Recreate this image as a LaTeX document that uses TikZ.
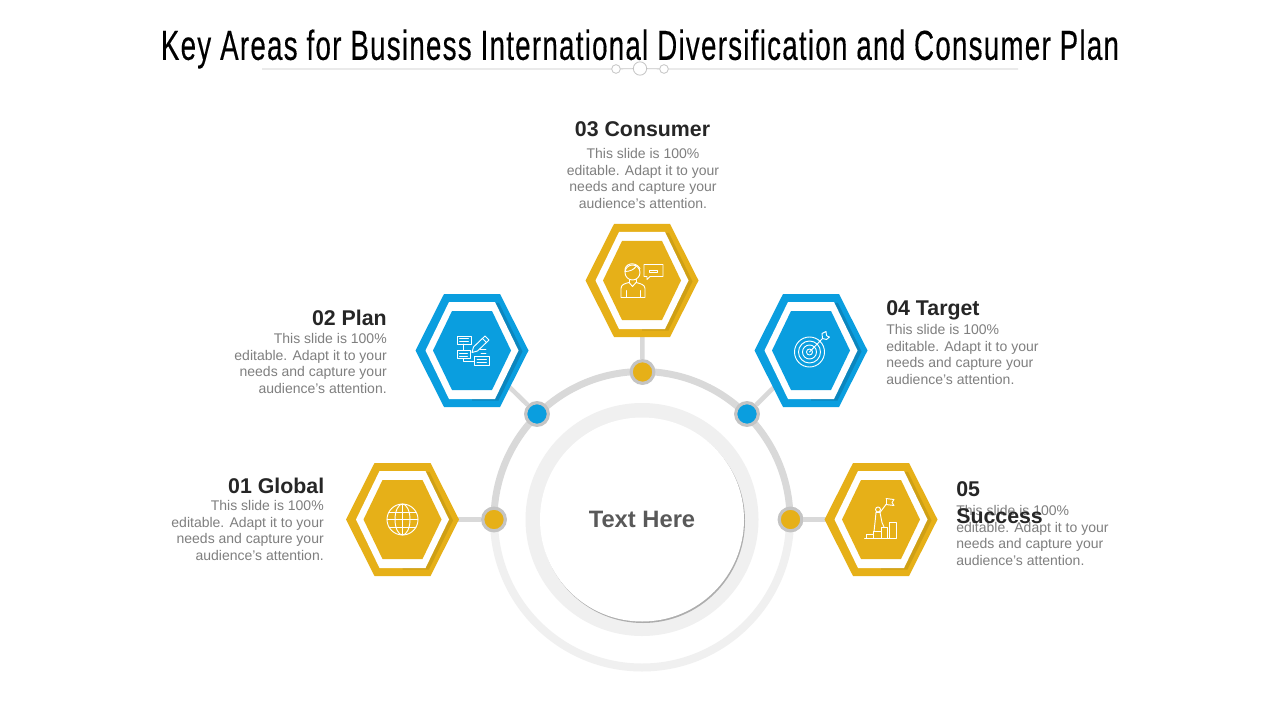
\documentclass[tikz,border=0pt]{standalone}
\usepackage{fontspec}
\setmainfont{Liberation Sans}
\newfontfamily\titlefont[FakeStretch=0.66,LetterSpace=3,FakeBold=0.25]{Liberation Sans}
\usetikzlibrary{positioning}

\definecolor{gold}{HTML}{E6B018}
\definecolor{golddark}{HTML}{CFA014}
\definecolor{sky}{HTML}{0A9EDF}
\definecolor{skydark}{HTML}{0B86BE}
\definecolor{ringgray}{HTML}{D9D9D9}
\definecolor{ringpale}{HTML}{F0F0F0}
\definecolor{dotrim}{HTML}{C4C4C4}
\definecolor{headink}{HTML}{262626}
\definecolor{bodyink}{HTML}{7F7F7F}

\tikzset{
  headtext/.style={font=\fontsize{16}{18}\selectfont\bfseries,text=headink,inner sep=0pt},
  bodytext/.style={font=\fontsize{10.5}{12.5}\selectfont,text=bodyink,inner sep=0pt},
  dot/.style={circle,draw=dotrim,line width=2.4pt,minimum size=17pt,inner sep=0pt},
  spoke/.style={ringgray,line width=3.4pt},
  icon/.style={white,line width=.7pt,line join=round,line cap=round},
  orn/.style={circle,draw=dotrim,fill=white,line width=.6pt,inner sep=0pt}
}

% hexagon: fill colour, shadow colour, centre
\newcommand{\hexa}[3]{
  \begin{scope}[shift={(#3)}]
    \fill[#1] (-56.5,0) -- (-28,-56.5) -- (28,-56.5) -- (56.5,0) -- (28,56.5) -- (-28,56.5) -- cycle;
    \fill[#2] (0,-48.5) -- (27,-47.5) -- (50.5,1) -- (26.5,50) -- (0,50) -- cycle;
    \fill[white] (-46.5,0) -- (-23,-48.5) -- (23,-48.5) -- (46.5,0) -- (23,48.5) -- (-23,48.5) -- cycle;
    \fill[#1] (-39,0) -- (-20,-39.5) -- (20,-39.5) -- (39,0) -- (20,39.5) -- (-20,39.5) -- cycle;
  \end{scope}
}

\begin{document}
\begin{tikzpicture}[x=.75pt,y=-.75pt]
  \useasboundingbox (0,0) rectangle (1280,720);
  \fill[white] (0,0) rectangle (1280,720);

  % title
  \node[inner sep=0pt,font=\titlefont\fontsize{31.5}{36}\selectfont] (title) at (640,49) {Key Areas for Business International Diversification and Consumer Plan};
  \node[orn,minimum size=6.5pt] (ornL) at (616,69) {};
  \node[orn,minimum size=10pt] (ornM) at (640,68.5) {};
  \node[orn,minimum size=6.5pt] (ornR) at (664,69) {};
  \coordinate (ruleL) at (262,69);
  \coordinate (ruleR) at (1018,69);
  \draw[dotrim,line width=.6pt] (ruleL) -- (ornL) (ornL) -- (ornM) (ornM) -- (ornR) (ornR) -- (ruleR);

  % rings
  \coordinate (hub) at (642,519.5);
  \draw[ringpale,line width=6pt] (494,519.5) arc[start angle=180,end angle=0,radius=148];
  \draw[ringgray,line width=5.2pt] (494,519.5) arc[start angle=180,end angle=360,radius=148];
  \fill[ringpale] (hub) circle (116.5);
  \fill[black!32] (643,521) circle (102);
  \node[circle,fill=white,minimum size=153pt,inner sep=0pt,text=black!65,font=\fontsize{17.8}{20}\selectfont\bfseries] (center) at (hub) {Text Here};

  % spokes and dots
  \coordinate (hex1) at (402.5,519.5);
  \coordinate (hex2) at (472,350.5);
  \coordinate (hex3) at (642,280.5);
  \coordinate (hex4) at (811,350.5);
  \coordinate (hex5) at (881,519.5);
  \node[dot,fill=gold] (dot1) at (494,519.5) {};
  \node[dot,fill=sky]  (dot2) at (537,414) {};
  \node[dot,fill=gold] (dot3) at (642.5,372) {};
  \node[dot,fill=sky]  (dot4) at (747,414) {};
  \node[dot,fill=gold] (dot5) at (790.5,519.5) {};
  \foreach \n in {1,...,5}
    \draw[spoke] (dot\n) -- (hex\n);

  \hexa{gold}{golddark}{hex1}
  \hexa{sky}{skydark}{hex2}
  \hexa{gold}{golddark}{hex3}
  \hexa{sky}{skydark}{hex4}
  \hexa{gold}{golddark}{hex5}

  % labels
  \node[headtext,anchor=east] (head1) at (324.5,485.5) {01 Global};
  \node[bodytext,anchor=north east,align=right] (body1) at (324,500) {This slide is 100\%\\editable. Adapt it to your\\needs and capture your\\audience's attention.};
  \node[headtext,anchor=east] (head2) at (387,318) {02 Plan};
  \node[bodytext,anchor=north east,align=right] (body2) at (387,333) {This slide is 100\%\\editable. Adapt it to your\\needs and capture your\\audience's attention.};
  \node[headtext] (head3) at (642.5,129) {03 Consumer};
  \node[bodytext,anchor=north,align=center] (body3) at (643,148) {This slide is 100\%\\editable. Adapt it to your\\needs and capture your\\audience's attention.};
  \node[headtext,anchor=west] (head4) at (886,310) {04 Target};
  \node[bodytext,anchor=north west,align=left] (body4) at (886,324) {This slide is 100\%\\editable. Adapt it to your\\needs and capture your\\audience's attention.};
  \node[bodytext,anchor=north west,align=left] (body5) at (956,505) {This slide is 100\%\\editable. Adapt it to your\\needs and capture your\\audience's attention.};
  \node[headtext,anchor=west] (head5a) at (956,489.5) {05};
  \node[headtext,anchor=west] (head5b) at (956,516) {Success};

  % icon 01: globe
  \begin{scope}[shift={(hex1)},icon]
    \draw (0,0) circle (15.5);
    \draw (0,0) ellipse [x radius=7.5,y radius=15.5];
    \draw (0,-15.5) -- (0,15.5) (-15.5,0) -- (15.5,0);
    \draw (-13.5,-7.5) -- (13.5,-7.5) (-13.5,7.5) -- (13.5,7.5);
  \end{scope}

  % icon 02: plan and pencil
  \begin{scope}[shift={(hex2)},icon]
    \draw (-15,-14.5) rectangle (-1,-6.5);
    \draw (-15,0) rectangle (-2,8);
    \draw (2.5,6) rectangle (17,15);
    \draw (-8.5,-6.5) -- (-8.5,0) (-8.5,8) -- (-8.5,11) -- (2.5,11);
    \draw (-12.5,-12) -- (-3.5,-12) (-12.5,-9) -- (-3.5,-9);
    \draw (-12.5,3) -- (-4.5,3) (-12.5,5.5) -- (-4.5,5.5);
    \draw (5,9) -- (14.5,9) (5,12) -- (14.5,12);
    \draw (0,2) -- (1.5,-3.5) -- (13,-14.5) -- (17,-10.5) -- (5.5,.5) -- cycle;
    \draw (10.5,-12) -- (14.5,-8);
    \draw (8,-1.5) -- (14,-1.5) (9,2.5) -- (14,2.5);
  \end{scope}

  % icon 03: person with speech bubble
  \begin{scope}[shift={(hex3)},icon]
    \draw (-9.5,-8) circle (7.5);
    \draw (-17,-9) .. controls (-18,-17) and (-7,-20) .. (-2,-12);
    \draw (-17,-9) .. controls (-12,-9) and (-8,-11) .. (-6,-14);
    \draw (-13,-1) -- (-13,2) (-6,-1) -- (-6,2);
    \draw (-21,17) -- (-21,8) .. controls (-21,4) and (-17,3) .. (-13,2) -- (-9.5,6) -- (-6,2) .. controls (-2,3) and (3,4) .. (3,8) -- (3,17) -- cycle;
    \draw (-16,10) -- (-16,17) (-2,10) -- (-2,17);
    \draw (2,-16) -- (21,-16) -- (21,-4) -- (8,-4) -- (5,-1) -- (5,-4) -- (2,-4) -- cycle;
    \draw (7.5,-10.5) rectangle (15.5,-8.5);
  \end{scope}

  % icon 04: target and arrow
  \begin{scope}[shift={(hex4)},icon]
    \draw (-1.5,1.5) circle (15);
    \draw (-1.5,1.5) circle (11);
    \draw (-1.5,1.5) circle (7);
    \draw (-1.5,1.5) circle (3);
    \draw (-1.5,1.5) -- (11.5,-12);
    \draw (11.5,-12) -- (11,-17) -- (15,-19) -- (15.5,-15) -- (17,-14);
    \draw (11.5,-12) -- (15.5,-11) -- (18.5,-13.5) -- (17,-14);
  \end{scope}

  % icon 05: climber and steps
  \begin{scope}[shift={(hex5)},icon]
    \draw (-16.5,19) -- (15,19);
    \draw (-14.5,19) -- (-14.5,15) -- (-8,15) -- (-8,19);
    \draw (-8,15) -- (-8,12) -- (0,12) -- (0,19);
    \draw (0,12) -- (0,7.5) -- (6,7.5) -- (6,19);
    \draw (8,19) -- (8,3) -- (15,3) -- (15,19);
    \draw (-3,-10) circle (2.5);
    \draw (-5,-7) -- (-6,3) -- (-7,12);
    \draw (-1,-7) -- (1,3) -- (3,7.5);
    \draw (-5,-7) -- (-1,-7) -- (5,-15);
    \draw (5,-21) -- (5,-15);
    \draw (5,-21) -- (13,-20) -- (11,-17) -- (13,-14) -- (5,-15);
  \end{scope}
\end{tikzpicture}
\end{document}
